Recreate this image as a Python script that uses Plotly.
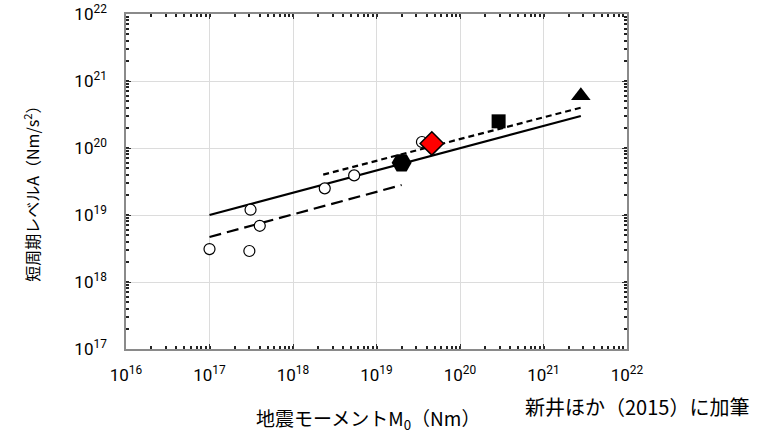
import plotly.graph_objects as go

# ---- data ----
circle_m0 = [1.0e17, 3.0e17, 3.1e17, 4.0e17, 2.4e18, 5.4e18, 3.5e19]
circle_a = [3.1e18, 2.9e18, 1.2e19, 6.9e18, 2.5e19, 3.9e19, 1.23e20]

hex_m0 = [2.0e19]
hex_a = [6.0e19]
diamond_m0 = [4.6e19]
diamond_a = [1.17e20]
square_m0 = [2.9e20]
square_a = [2.5e20]
triangle_m0 = [2.8e21]
triangle_a = [6.0e20]

solid_m0 = [1.0e17, 2.8e21]
solid_a = [1.0e19, 3.0e20]
longdash_m0 = [1.0e17, 2.0e19]
longdash_a = [4.7e18, 2.8e19]
shortdash_m0 = [2.3e18, 2.8e21]
shortdash_a = [4.0e19, 4.0e20]

x_tick_vals = [1e16, 1e17, 1e18, 1e19, 1e20, 1e21, 1e22]
x_tick_text = ["10<sup>16</sup>", "10<sup>17</sup>", "10<sup>18</sup>", "10<sup>19</sup>",
               "10<sup>20</sup>", "10<sup>21</sup>", "10<sup>22</sup>"]
y_tick_vals = [1e17, 1e18, 1e19, 1e20, 1e21, 1e22]
y_tick_text = ["10<sup>17</sup>", "10<sup>18</sup>", "10<sup>19</sup>",
               "10<sup>20</sup>", "10<sup>21</sup>", "10<sup>22</sup>"]

TICKFONT = "Roboto, Liberation Sans, sans-serif"
JPFONT = "Noto Sans CJK JP"

fig = go.Figure()

fig.add_trace(go.Scatter(x=solid_m0, y=solid_a, mode="lines",
                         line=dict(color="black", width=2.2, dash="solid"), showlegend=False))
fig.add_trace(go.Scatter(x=longdash_m0, y=longdash_a, mode="lines",
                         line=dict(color="black", width=2.2, dash="12px,6px"), showlegend=False))
fig.add_trace(go.Scatter(x=shortdash_m0, y=shortdash_a, mode="lines",
                         line=dict(color="black", width=2.2, dash="6px,4px"), showlegend=False))

fig.add_trace(go.Scatter(x=circle_m0, y=circle_a, mode="markers",
                         marker=dict(symbol="circle", size=11, color="white",
                                     line=dict(color="black", width=1.2)), showlegend=False))
fig.add_trace(go.Scatter(x=hex_m0, y=hex_a, mode="markers",
                         marker=dict(symbol="hexagon2", size=20, color="black",
                                     line=dict(color="black", width=0)), showlegend=False))
fig.add_trace(go.Scatter(x=diamond_m0, y=diamond_a, mode="markers",
                         marker=dict(symbol="diamond", size=18, color="red",
                                     line=dict(color="black", width=1.5)), showlegend=False))
fig.add_trace(go.Scatter(x=square_m0, y=square_a, mode="markers",
                         marker=dict(symbol="square", size=14, color="black",
                                     line=dict(color="black", width=0)), showlegend=False))
fig.add_trace(go.Scatter(x=triangle_m0, y=triangle_a, mode="markers",
                         marker=dict(symbol="triangle-up", size=17, color="black",
                                     line=dict(color="black", width=0)), showlegend=False))

axis_common = dict(
    type="log", automargin=False,
    showgrid=True, gridcolor="#dcdcdc", gridwidth=1.2,
    showline=True, linecolor="#8a8a8a", linewidth=1.5, mirror="ticks",
    ticks="inside", ticklen=5, tickcolor="#333", tickwidth=1,
    minor=dict(ticks="inside", ticklen=3, tickcolor="#222", tickwidth=1.5,
               dtick="D1", showgrid=False),
    zeroline=False,
    tickfont=dict(family=TICKFONT, size=17, color="black"),
)

fig.update_xaxes(range=[16, 22], tickmode="array", tickvals=x_tick_vals,
                 ticktext=x_tick_text, ticklabelstandoff=10, **axis_common)
fig.update_yaxes(range=[17, 22], tickmode="array", tickvals=y_tick_vals,
                 ticktext=y_tick_text, ticklabelstandoff=14, **axis_common)

fig.add_annotation(text="短周期レベルA（Nm/s<sup>2</sup>）", xref="paper", yref="paper",
                   x=-0.188, y=0.475, xanchor="center", yanchor="middle", textangle=-90,
                   showarrow=False, font=dict(family=JPFONT, size=16, color="black"))
fig.add_annotation(text="地震モーメントM<sub>0</sub>（Nm）", xref="paper", yref="paper",
                   x=0.483, y=-0.208, xanchor="center", yanchor="middle", showarrow=False,
                   font=dict(family=JPFONT, size=19, color="black"))
fig.add_annotation(text="新井ほか（2015）に加筆", xref="paper", yref="paper",
                   x=1.02, y=-0.172, xanchor="center", yanchor="middle", showarrow=False,
                   font=dict(family=JPFONT, size=20, color="black"))

fig.update_layout(
    width=776, height=434,
    margin=dict(l=126, r=149, t=14, b=85),
    plot_bgcolor="white", paper_bgcolor="white",
)

# remove the default page margin so the figure sits at the window's top-left corner
fig.write_html("out.html", config={"displayModeBar": False},
               post_script="document.body.style.margin='0';document.body.style.overflow='hidden';")
